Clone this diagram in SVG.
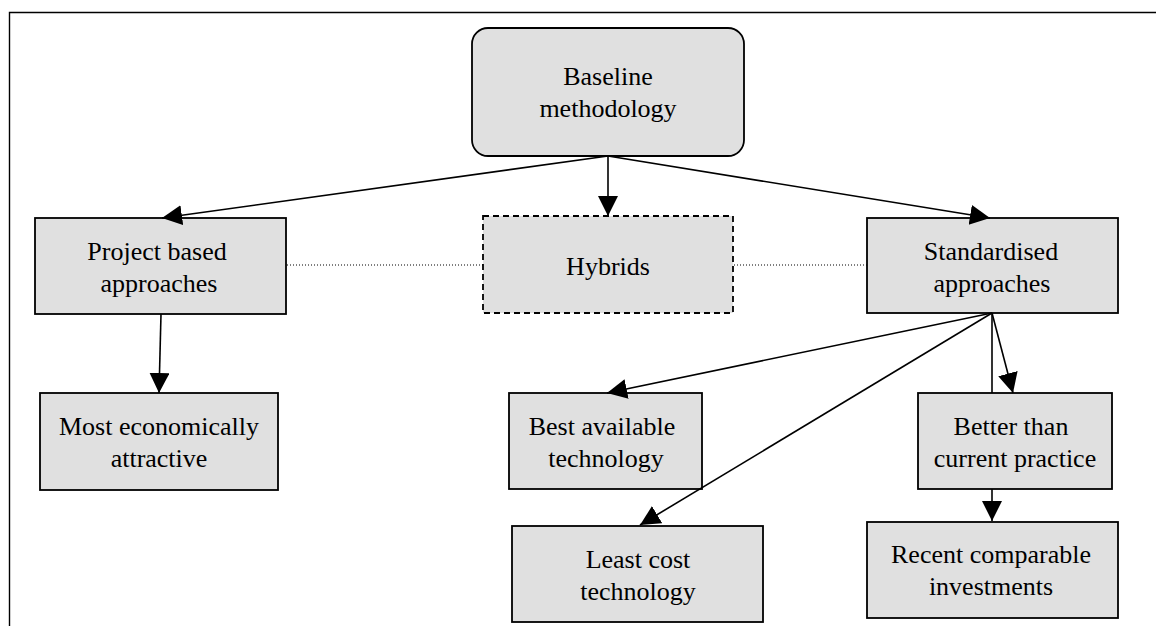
<svg xmlns="http://www.w3.org/2000/svg" width="1156" height="626" viewBox="0 0 1156 626">
<defs>
<style>
.box{fill:#e0e0e0;stroke:#000;stroke-width:1.8}
.dash{stroke-dasharray:6,4}
.t{font-family:"Liberation Serif","Times New Roman",serif;font-size:26px;fill:#000;text-anchor:middle}
.c{stroke:#000;stroke-width:1.6;fill:none}
.a{marker-end:url(#ah)}
.dot{stroke:#000;stroke-width:1;stroke-dasharray:1,2;fill:none}
</style>
<marker id="ah" markerUnits="userSpaceOnUse" markerWidth="21" markerHeight="21" refX="20" refY="10" orient="auto">
<path d="M0,0 L20,10 L0,20 z" fill="#000"/>
</marker>
</defs>
<rect width="1156" height="626" fill="#fff"/>
<path d="M9.5,626 V12.5 H1156" fill="none" stroke="#000" stroke-width="1.4"/>
<g id="baseline">
<rect class="box" x="472" y="28" width="272" height="128" rx="16"/>
<text class="t" x="608" y="85">Baseline</text>
<text class="t" x="608" y="117">methodology</text>
</g>
<g id="project">
<rect class="box" x="35" y="218" width="251" height="96"/>
<text class="t" x="157" y="260">Project based</text>
<text class="t" x="159" y="292">approaches</text>
</g>
<g id="hybrids">
<rect class="box dash" x="483" y="216" width="250" height="97"/>
<text class="t" x="608" y="275">Hybrids</text>
</g>
<g id="standardised">
<rect class="box" x="867" y="218" width="251" height="95"/>
<text class="t" x="991" y="260">Standardised</text>
<text class="t" x="992" y="292">approaches</text>
</g>
<g id="most">
<rect class="box" x="40" y="393" width="238" height="97"/>
<text class="t" x="159" y="435">Most economically</text>
<text class="t" x="159" y="467">attractive</text>
</g>
<g id="best">
<rect class="box" x="509" y="393" width="193" height="96"/>
<text class="t" x="602" y="435">Best available</text>
<text class="t" x="606" y="467">technology</text>
</g>
<g id="least">
<rect class="box" x="512" y="526" width="251" height="96"/>
<text class="t" x="638" y="568">Least cost</text>
<text class="t" x="638" y="600">technology</text>
</g>
<g id="better">
<rect class="box" x="918" y="393" width="194" height="96"/>
<text class="t" x="1011" y="435">Better than</text>
<text class="t" x="1015" y="467">current practice</text>
</g>
<g id="recent">
<rect class="box" x="867" y="522" width="251" height="96"/>
<text class="t" x="991" y="563">Recent comparable</text>
<text class="t" x="991" y="595">investments</text>
</g>
<g id="connectors">
<line class="c a" x1="608" y1="156" x2="162" y2="218"/>
<line class="c a" x1="608" y1="156" x2="608" y2="216"/>
<line class="c a" x1="608" y1="156" x2="990" y2="218"/>
<line class="c a" x1="161" y1="314" x2="159" y2="393"/>
<line class="c a" x1="992" y1="313" x2="607" y2="393"/>
<line class="c a" x1="992" y1="313" x2="640" y2="525"/>
<line class="c" x1="992" y1="313" x2="992" y2="393"/>
<line class="c a" x1="992" y1="313" x2="1013" y2="393"/>
<line class="c a" x1="992" y1="489" x2="992" y2="521"/>
<line class="dot" x1="287" y1="265" x2="483" y2="265"/>
<line class="dot" x1="734" y1="265" x2="867" y2="265"/>
</g>
</svg>
